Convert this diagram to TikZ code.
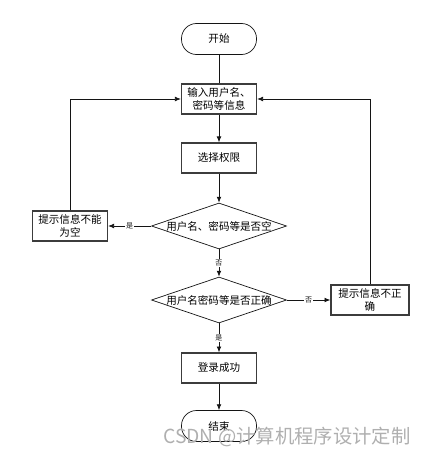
\documentclass[tikz,border=0pt]{standalone}
\usepackage{fontspec}
\newfontfamily\cjk{Noto Sans CJK SC}
\usepackage{xcolor}
\definecolor{BoxGray}{RGB}{60,60,60}
\definecolor{LineBlack}{RGB}{20,20,20}
\definecolor{MarkGray}{RGB}{175,175,175}
\usetikzlibrary{
  shapes, shapes.geometric,
  arrows.meta,
  positioning
}
\tikzset{
  % Start / end terminal
  term/.style={
    rectangle, rounded corners=0.45cm,
    draw=LineBlack, line width=0.6pt,
    minimum width=2.25cm, minimum height=0.93cm,
    align=center, font=\cjk\fontsize{9}{11}\selectfont,
    inner sep=1pt
  },
  % Process box
  proc/.style={
    rectangle, draw=BoxGray, line width=1.1pt,
    minimum width=2.25cm, minimum height=0.9cm,
    align=center, font=\cjk\fontsize{9}{11}\selectfont,
    inner sep=1pt
  },
  % Decision diamond
  decision/.style={
    diamond, draw=LineBlack, line width=0.6pt,
    aspect=3, inner sep=0pt,
    minimum width=4.02cm, minimum height=1.38cm,
    align=center, font=\cjk\fontsize{9}{11}\selectfont
  },
  % Arrows
  link/.style={LineBlack, line width=0.6pt},
  arr/.style={link, -{Latex[length=5pt,width=4pt]}},
  % Edge label
  elabel/.style={font=\cjk\fontsize{6}{7}\selectfont, fill=white, inner sep=1pt},
}

\begin{document}
\begin{tikzpicture}[x=0.03cm, y=-0.03cm]
  \useasboundingbox (0,0) rectangle (429,457);

  \node[term] (start) at (219,39) {开始};
  \node[proc] (input) at (219,99) {输入用户名、\\密码等信息};
  \node[proc] (choose) at (219,158) {选择权限};
  \node[decision] (chkempty) at (219,226) {用户名、密码等是否空};
  \node[proc] (warnempty) at (70,226) {提示信息不能\\为空};
  \node[decision] (chkright) at (219,300) {用户名密码等是否正确};
  \node[proc, minimum width=2.34cm] (warnwrong) at (370,300) {提示信息不正\\确};
  \node[proc] (success) at (219,368) {登录成功};
  \node[term] (finish) at (219,426) {结束};

  \draw[link] (start) -- (input);
  \draw[arr] (input) -- (choose);
  \draw[arr] (choose) -- (chkempty);
  \draw[arr] (chkempty) -- node[elabel] {是} (warnempty);
  \draw[arr] (warnempty) |- (input);
  \draw[arr] (chkempty) -- node[elabel] {否} (chkright);
  \draw[arr] (chkright) -- node[elabel] {否} (warnwrong);
  \draw[arr] (warnwrong) |- (input);
  \draw[arr] (chkright) -- node[elabel] {是} (success);
  \draw[arr] (success) -- (finish);

  % watermark
  \node[anchor=west, text=MarkGray, font=\cjk\fontsize{16.5}{18}\selectfont, inner sep=0pt]
    (mark) at (163,437) {CSDN @计算机程序设计定制};
\end{tikzpicture}
\end{document}
